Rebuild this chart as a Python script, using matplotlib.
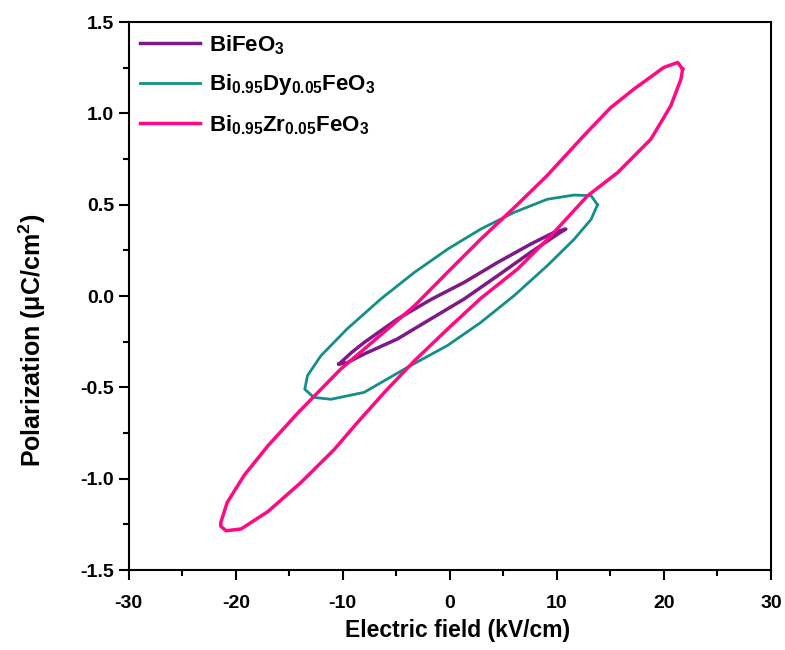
import matplotlib.pyplot as plt
from matplotlib.ticker import MultipleLocator, FormatStrFormatter

plt.rcParams['font.family'] = ['Liberation Sans', 'DejaVu Sans']
plt.rcParams['font.weight'] = 'bold'
plt.rcParams['axes.unicode_minus'] = False
plt.rcParams['mathtext.fontset'] = 'custom'
plt.rcParams['mathtext.rm'] = 'Liberation Sans:bold'
plt.rcParams['mathtext.bf'] = 'Liberation Sans:bold'
plt.rcParams['mathtext.it'] = 'Liberation Sans:bold'

# P-E loops: field in kV/cm, polarization in uC/cm^2
# BiFeO3
bfo_E = [-10.35, -9.2, -8.0, -4.9, -1.8, 1.34, 4.46, 7.57, 9.75, 10.84,
         10.1, 7.57, 4.46, 1.34, -1.8, -4.9, -8.0, -9.6, -10.35]
bfo_P = [-0.372, -0.31, -0.254, -0.126, -0.02, 0.075, 0.184, 0.285, 0.349, 0.367,
         0.34, 0.24, 0.111, -0.016, -0.126, -0.235, -0.317, -0.365, -0.372]

# Bi0.95Dy0.05FeO3
dy_E = [13.8, 13.2, 11.6, 9.1, 6.0, 2.9, -0.2, -3.95, -8.0, -11.1, -12.7, -13.55,
        -13.3, -12.05, -9.6, -6.45, -3.3, -0.2, 2.9, 6.0, 9.1, 11.6, 13.2, 13.8]
dy_P = [0.50, 0.42, 0.31, 0.166, 0.002, -0.144, -0.27, -0.39, -0.527, -0.565, -0.555, -0.51,
        -0.436, -0.327, -0.18, -0.016, 0.13, 0.257, 0.367, 0.458, 0.53, 0.553, 0.55, 0.50]

# Bi0.95Zr0.05FeO3
zr_E = [21.75, 21.6, 20.65, 18.8, 15.7, 12.87, 9.44, 6.33, 2.9, -0.2, -3.3, -6.0, -8.6,
        -10.8, -13.9, -17.0, -19.5, -20.9, -21.4,
        -21.4, -20.8, -19.2, -17.0, -14.2, -10.2, -6.0, -3.3, 0.09, 2.9, 6.3, 9.1,
        12.55, 15.0, 17.2, 20.0, 21.3, 21.75]
zr_P = [1.242, 1.188, 1.042, 0.86, 0.677, 0.549, 0.33, 0.148, -0.012, -0.18, -0.354, -0.52, -0.69,
        -0.84, -1.02, -1.18, -1.275, -1.285, -1.26,
        -1.24, -1.13, -0.98, -0.82, -0.64, -0.40, -0.19, -0.053, 0.148, 0.312, 0.50, 0.66,
        0.88, 1.03, 1.133, 1.252, 1.279, 1.242]

fig = plt.figure(figsize=(7.85, 6.5), dpi=100)
ax = fig.add_axes([0.164, 0.123, 0.818, 0.843])

ax.plot(bfo_E, bfo_P, color='#7d1a88', lw=2.5, solid_joinstyle='round', label=r'BiFeO$_3$')
ax.plot(dy_E, dy_P, color='#148e88', lw=2.0, solid_joinstyle='round',
        label=r'Bi$_{0.95}$Dy$_{0.05}$FeO$_3$')
ax.plot(zr_E, zr_P, color='#ff0a82', lw=2.5, solid_joinstyle='round',
        label=r'Bi$_{0.95}$Zr$_{0.05}$FeO$_3$')

ax.set_xlim(-30, 30)
ax.set_ylim(-1.5, 1.5)
ax.xaxis.set_major_locator(MultipleLocator(10))
ax.xaxis.set_minor_locator(MultipleLocator(5))
ax.yaxis.set_major_locator(MultipleLocator(0.5))
ax.yaxis.set_minor_locator(MultipleLocator(0.25))
ax.yaxis.set_major_formatter(FormatStrFormatter('%.1f'))
ax.tick_params(which='both', direction='out', width=1.5, labelsize=14, top=False, right=False)
ax.tick_params(which='major', length=7)
ax.tick_params(which='minor', length=4)
ax.tick_params(axis='x', pad=11)
for lab in ax.get_xticklabels() + ax.get_yticklabels():
    lab.set_fontweight('bold')
for s in ax.spines.values():
    s.set_linewidth(1.5)

ax.set_xlabel('Electric field (kV/cm)', fontsize=16.5, fontweight='bold')
ax.set_ylabel(r'Polarization ($\mu$C/cm$^2$)', fontsize=18, fontweight='bold')
ax.xaxis.set_label_coords(0.512, -0.09)
ax.yaxis.set_label_coords(-0.125, 0.42)

ax.legend(loc='upper left', frameon=False, fontsize=16, handlelength=2.7,
          handletextpad=0.4, labelspacing=0.7, borderaxespad=0.1)

fig.savefig('out.png', dpi=100)
